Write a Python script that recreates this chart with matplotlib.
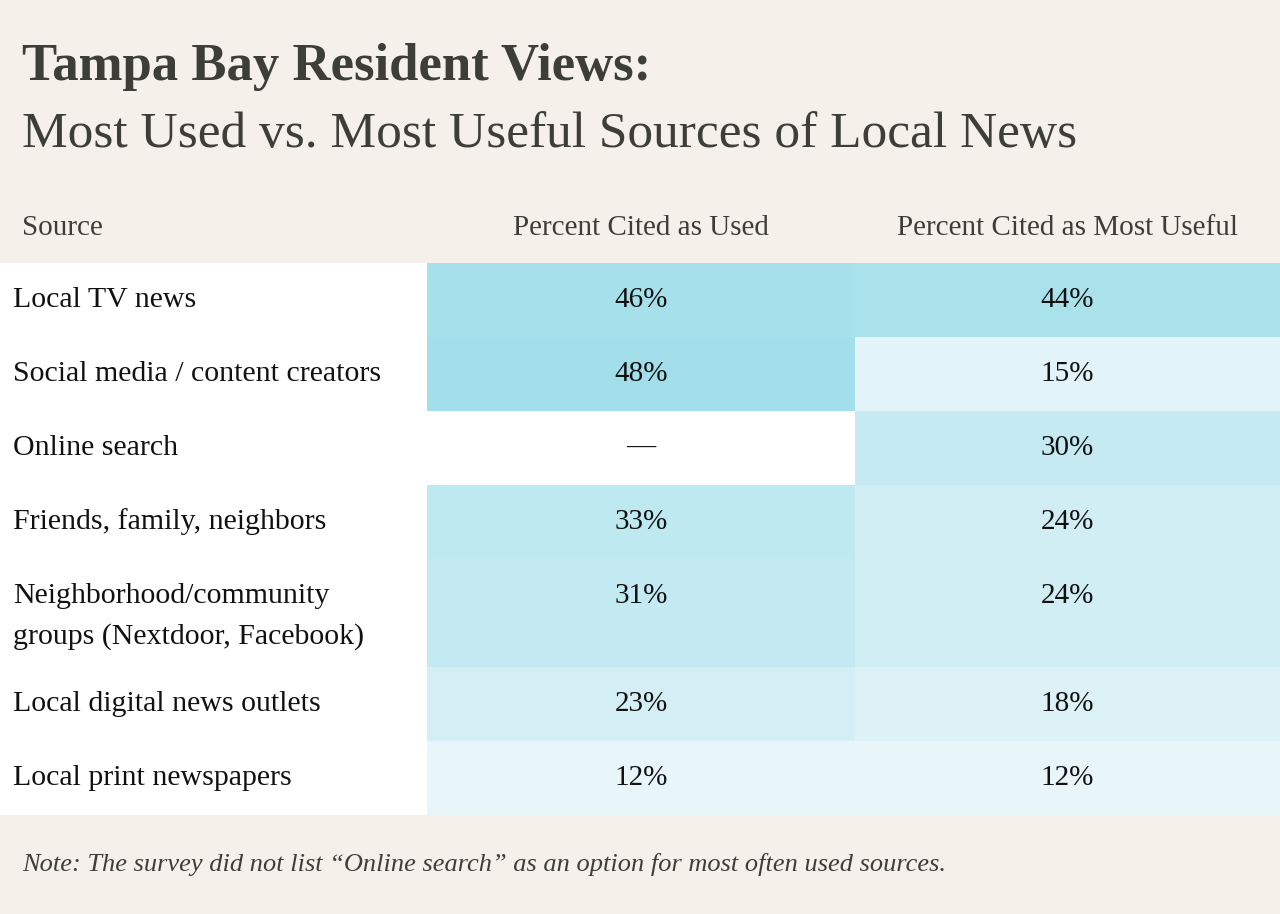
import numpy as np
import matplotlib
matplotlib.use("Agg")
import matplotlib.pyplot as plt
from matplotlib.colors import LinearSegmentedColormap, Normalize

sources = [
    "Local TV news",
    "Social media / content creators",
    "Online search",
    "Friends, family, neighbors",
    "Neighborhood/community\ngroups (Nextdoor, Facebook)",
    "Local digital news outlets",
    "Local print newspapers",
]
pct_used = [46, 48, np.nan, 33, 31, 23, 12]
pct_useful = [44, 15, 30, 24, 24, 18, 12]
headers = ["Source", "Percent Cited as Used", "Percent Cited as Most Useful"]

title = "Tampa Bay Resident Views:"
subtitle = "Most Used vs. Most Useful Sources of Local News"
note = "Note: The survey did not list \u201cOnline search\u201d as an option for most often used sources."

BG = "#f5f0e9"
INK = "#3e3e39"
FONT = "Liberation Serif"

cmap = LinearSegmentedColormap.from_list("teal", ["#e8f6fa", "#a2dfea"])
norm = Normalize(vmin=12, vmax=48)

fig = plt.figure(figsize=(12.8, 9.14), dpi=100)
fig.patch.set_facecolor(BG)
ax = fig.add_axes([0, 0, 1, 1])
ax.set_xlim(0, 1280)
ax.set_ylim(914, 0)
ax.axis("off")

# table geometry (pixels)
col_edges = [0, 427, 855, 1280]
table_top = 263
line_gap = 41
row_h = [74 + 34 * s.count("\n") for s in sources]
y_edges = table_top + np.concatenate([[0], np.cumsum(row_h)])

# white body behind the table
ax.fill_between([col_edges[0], col_edges[-1]], y_edges[0], y_edges[-1],
                color="white", lw=0, zorder=0)

vals = np.ma.masked_invalid(np.column_stack([pct_used, pct_useful]))
ax.pcolormesh(col_edges[1:], y_edges, vals, cmap=cmap, norm=norm,
              shading="flat", zorder=1)

# titles
ax.text(22, 80, title, fontsize=38, fontweight="bold", color=INK,
        family=FONT, va="baseline")
ax.text(22, 147, subtitle, fontsize=37, color=INK, family=FONT, va="baseline")

# header row
hy = 228
ax.text(22, hy, headers[0], fontsize=21, color=INK, family=FONT, va="center")
for j in range(2):
    cx = (col_edges[j + 1] + col_edges[j + 2]) / 2
    ax.text(cx, hy, headers[j + 1], fontsize=21, color=INK, family=FONT,
            ha="center", va="center")

# body text
for i, s in enumerate(sources):
    ty = y_edges[i] + 37
    for k, line in enumerate(s.split("\n")):
        ax.text(13, ty + k * line_gap, line, fontsize=21.5, color="#111111",
                family=FONT, va="center")
    for j, v in enumerate([pct_used[i], pct_useful[i]]):
        cx = (col_edges[j + 1] + col_edges[j + 2]) / 2
        label = "\u2014" if np.isnan(v) else f"{v:.0f}%"
        ax.text(cx, ty, label, fontsize=21, color="#111111", family=FONT,
                ha="center", va="center")

ax.text(22, 864, note, fontsize=19, style="italic", color=INK, family=FONT,
        va="center")

fig.savefig("out.png", dpi=100, facecolor=BG)
